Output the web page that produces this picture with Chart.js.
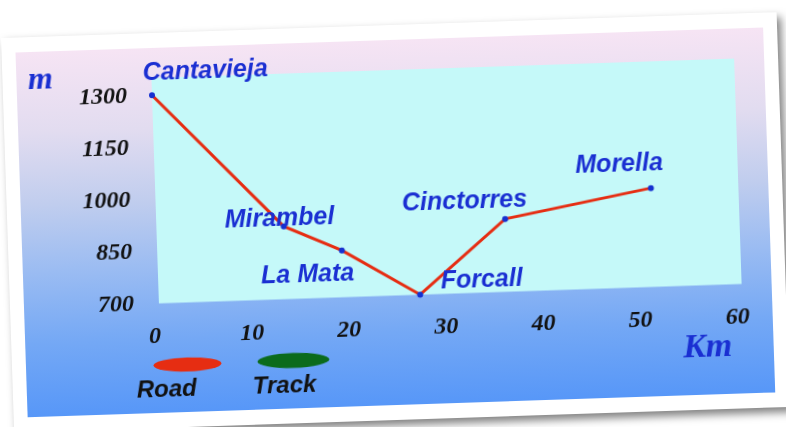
<!DOCTYPE html>
<html lang="es">
<head>
    <meta charset="UTF-8">
    <title>Perfil Cantavieja - Morella</title>
    <script src="https://cdn.jsdelivr.net/npm/chart.js"></script>
    <style>
        html, body {
            margin: 0;
            padding: 0;
            background: #fff;
            width: 786px;
            height: 427px;
            overflow: hidden;
        }
        #card {
            position: absolute;
            left: 0.5px;
            top: 37.5px;
            width: 776px;
            height: 395px;
            background: #fff;
            transform-origin: 0 0;
            transform: rotate(-1.91deg);
            box-shadow: 4px 5px 8px rgba(0, 0, 0, 0.5);
        }
        #panel {
            position: absolute;
            left: 14px;
            top: 15px;
            width: 748px;
            height: 365px;
            background: linear-gradient(to bottom, #f6e4f4 0%, #e2dcf0 22%, #c0cdee 42%, #9bbcf2 60%, #74a8f5 80%, #5797f8 100%);
        }
    </style>
</head>
<body>

<div id="card">
    <div id="panel">
        <canvas id="profile"></canvas>
    </div>
</div>

<script>
    // Route profile
    const towns = ['Cantavieja', 'Mirambel', 'La Mata', 'Forcall', 'Cinctorres', 'Morella'];
    const km = [0, 13.1, 19, 26.9, 35.9, 51];
    const roadElevation = [1300, 910, 835, 700, 910, 985];
    const kmTicks = [0, 10, 20, 30, 40, 50, 60];
    const mTicks = [700, 850, 1000, 1150, 1300];

    const blue = '#1a2fd2';
    const tickFont = { family: '"Liberation Serif"', size: 24, style: 'italic', weight: 'bold' };

    // cyan plot area
    const plotBackground = {
        id: 'plotBackground',
        beforeDraw(chart) {
            const { ctx, chartArea: a } = chart;
            ctx.save();
            ctx.fillStyle = '#c5f9f9';
            ctx.fillRect(a.left, a.top, a.width, a.height);
            ctx.restore();
        }
    };

    // town names next to each point
    const townLabels = {
        id: 'townLabels',
        afterDatasetsDraw(chart, args, opts) {
            const { ctx } = chart;
            const meta = chart.getDatasetMeta(0);
            ctx.save();
            ctx.font = 'italic bold 25px "Liberation Sans"';
            ctx.fillStyle = blue;
            ctx.textAlign = 'center';
            ctx.textBaseline = 'middle';
            meta.data.forEach((pt, i) => {
                const off = opts.offsets[i];
                ctx.fillText(towns[i], pt.x + off[0], pt.y + off[1]);
            });
            ctx.restore();
        }
    };

    // unit captions "m" and "Km"
    const units = {
        id: 'units',
        afterDraw(chart, args, opts) {
            const { ctx } = chart;
            ctx.save();
            ctx.fillStyle = blue;
            ctx.textAlign = 'center';
            ctx.textBaseline = 'middle';
            ctx.font = 'italic bold 32px "Liberation Serif"';
            ctx.fillText('m', opts.m[0], opts.m[1]);
            ctx.font = 'italic bold 34px "Liberation Serif"';
            ctx.fillText('Km', opts.km[0], opts.km[1]);
            ctx.restore();
        }
    };

    // legend: coloured ellipse with the name below
    const ellipseLegend = {
        id: 'ellipseLegend',
        afterDraw(chart, args, opts) {
            const { ctx } = chart;
            ctx.save();
            chart.data.datasets.forEach((ds, i) => {
                const it = opts.items[i];
                ctx.fillStyle = ds.borderColor;
                ctx.beginPath();
                ctx.ellipse(it.cx, it.cy, it.rx, it.ry, 0, 0, Math.PI * 2);
                ctx.fill();
                ctx.fillStyle = '#111';
                ctx.font = 'italic bold 24px "Liberation Sans"';
                ctx.textAlign = 'left';
                ctx.textBaseline = 'middle';
                ctx.fillText(ds.label, it.tx, it.ty);
            });
            ctx.restore();
        }
    };

    const ctx = document.getElementById('profile').getContext('2d');

    new Chart(ctx, {
        type: 'line',
        data: {
            datasets: [
                {
                    label: 'Road',
                    data: km.map((x, i) => ({ x: x, y: roadElevation[i] })),
                    borderColor: '#e62d12',
                    borderWidth: 3,
                    tension: 0,
                    pointRadius: 3,
                    pointBorderWidth: 0,
                    pointBackgroundColor: '#1530d0',
                    clip: false
                },
                {
                    label: 'Track',
                    data: [],
                    borderColor: '#0b6b1c'
                }
            ]
        },
        options: {
            responsive: true,
            maintainAspectRatio: false,
            animation: false,
            layout: {
                padding: { left: 35, top: 30, right: 30, bottom: 49.5 }
            },
            scales: {
                x: {
                    type: 'linear',
                    min: 0,
                    max: 60,
                    afterFit: s => { s.height = 60; },
                    afterBuildTicks: s => { s.ticks = kmTicks.map(v => ({ value: v })); },
                    grid: { display: false, drawTicks: true, tickLength: 19 },
                    border: { display: false },
                    ticks: { color: '#111', font: tickFont, padding: 0, maxRotation: 0, labelOffset: -5,
                             callback: v => String(v) }
                },
                y: {
                    min: 700,
                    max: 1350,
                    afterFit: s => { s.width = 100; },
                    afterBuildTicks: s => { s.ticks = mTicks.map(v => ({ value: v })); },
                    grid: { display: false, drawTicks: true, tickLength: 21 },
                    border: { display: false },
                    ticks: { color: '#111', font: tickFont, padding: 4, callback: v => String(v) }
                }
            },
            plugins: {
                legend: { display: false },
                tooltip: { enabled: false },
                townLabels: {
                    offsets: [[54, -22.5], [-4, -7.5], [-35, 23.5], [62, -12.5], [-40, -18.5], [-31, -24.5]]
                },
                units: { m: [24, 29], km: [682, 318] },
                ellipseLegend: {
                    items: [
                        { cx: 161.5, cy: 317.5, rx: 34, ry: 7, tx: 110, ty: 342 },
                        { cx: 267.5, cy: 317, rx: 36, ry: 7.5, tx: 226, ty: 342 }
                    ]
                }
            }
        },
        plugins: [plotBackground, townLabels, units, ellipseLegend]
    });
</script>

</body>
</html>
